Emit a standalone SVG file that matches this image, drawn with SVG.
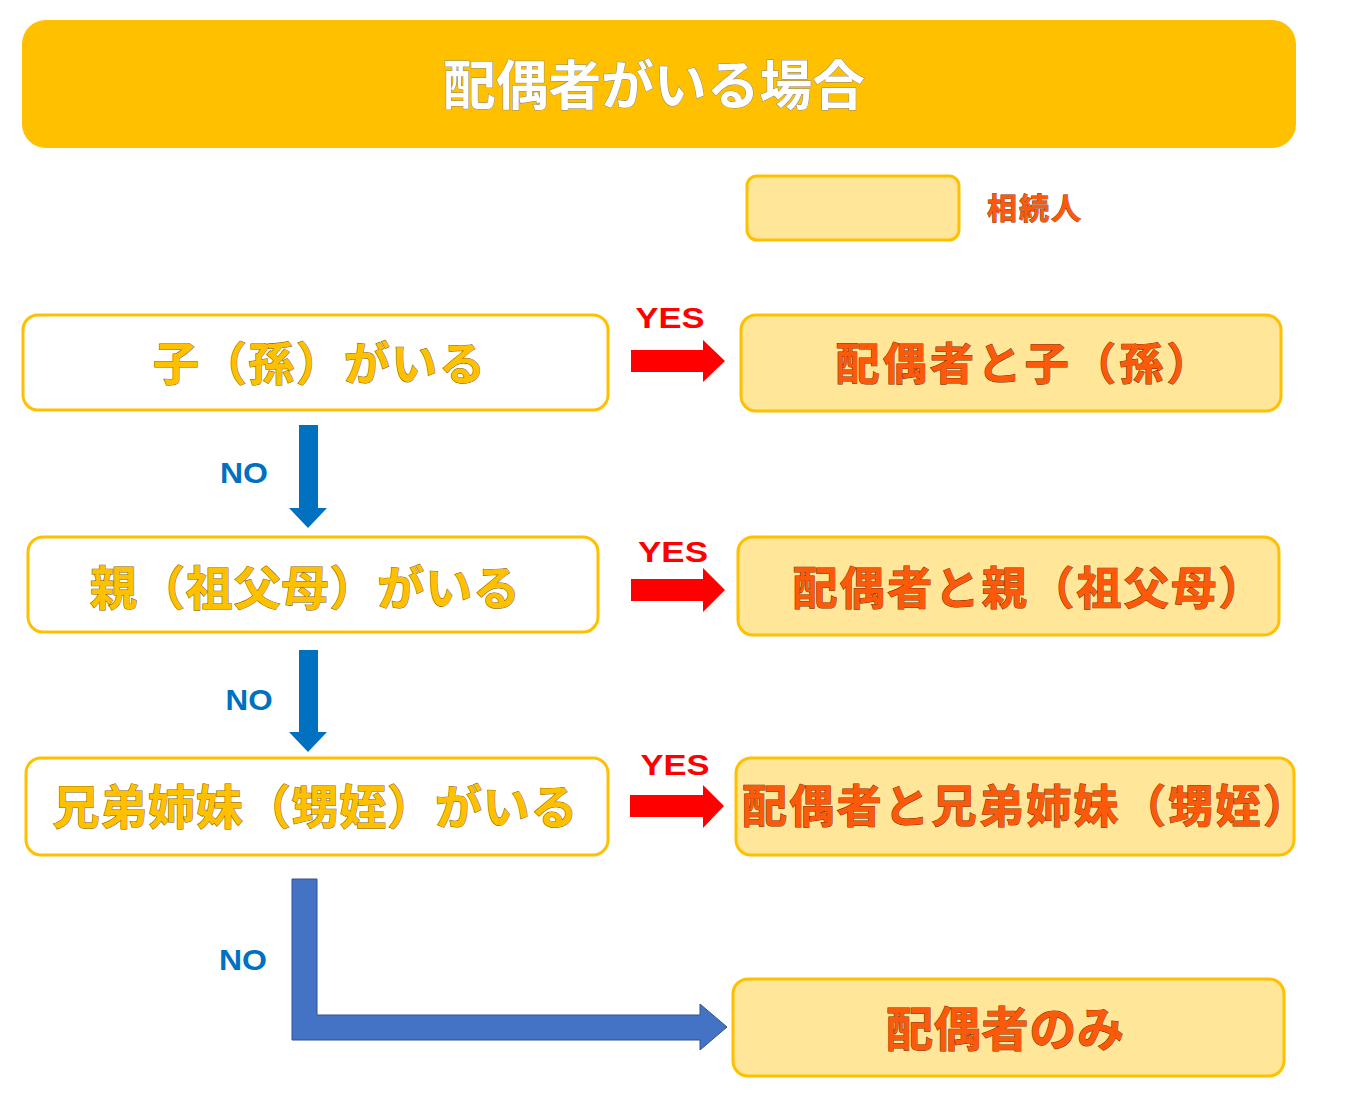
<svg xmlns="http://www.w3.org/2000/svg" width="1370" height="1102" viewBox="0 0 1370 1102">
<style>
.jp{font-family:"Noto Sans CJK JP","Noto Sans CJK SC",sans-serif;font-weight:bold;text-anchor:middle;paint-order:stroke}
.q{fill:#FFFFFF;stroke:#FFC000;stroke-width:3}
.a{fill:#FFE699;stroke:#FFC000;stroke-width:3}
.ty{fill:#FFC000;stroke:#7F6000;stroke-width:1}
.to{fill:#FC5A0A;stroke:#7A2A00;stroke-width:1}
.yes{font-family:"Liberation Sans",Arial,sans-serif;font-weight:bold;fill:#FF0000;font-size:29px;text-anchor:middle}
.no{font-family:"Liberation Sans",Arial,sans-serif;font-weight:bold;fill:#0070C0;font-size:30px;text-anchor:middle}
.ra{fill:#FF0000}
.ba{fill:#0070C0}
</style>
<rect width="1370" height="1102" fill="#FFFFFF"/>
<g id="title">
<rect x="22" y="20" width="1274" height="128" rx="24" fill="#FFC000"/>
<text class="jp" x="654" y="105" font-size="53" textLength="422" lengthAdjust="spacingAndGlyphs" fill="#FFFFFF" stroke="#8A8A8A" stroke-width="1">配偶者がいる場合</text>
</g>
<g id="legend">
<rect class="a" x="747" y="176" width="212" height="64" rx="10"/>
<text class="jp to" x="1034" y="219" font-size="30" textLength="94" style="stroke-width:0.8">相続人</text>
</g>
<g id="q1">
<rect class="q" x="23" y="315" width="585" height="95" rx="15"/>
<text class="jp ty" x="319" y="380" font-size="46" textLength="332">子（孫）がいる</text>
</g>
<g id="a1">
<rect class="a" x="741" y="315" width="540" height="96" rx="15"/>
<text class="jp to" x="1023" y="380" font-size="44" textLength="375">配偶者と子（孫）</text>
</g>
<g id="q2">
<rect class="q" x="28" y="537" width="570" height="95" rx="15"/>
<text class="jp ty" x="305" y="605" font-size="47" textLength="430">親（祖父母）がいる</text>
</g>
<g id="a2">
<rect class="a" x="738" y="537" width="541" height="98" rx="15"/>
<text class="jp to" x="1028" y="605" font-size="45" textLength="471">配偶者と親（祖父母）</text>
</g>
<g id="q3">
<rect class="q" x="26" y="758" width="582" height="97" rx="15"/>
<text class="jp ty" x="315" y="824" font-size="47" textLength="525">兄弟姉妹（甥姪）がいる</text>
</g>
<g id="a3">
<rect class="a" x="736" y="758" width="558" height="97" rx="15"/>
<text class="jp to" x="1025" y="823" font-size="45" textLength="566">配偶者と兄弟姉妹（甥姪）</text>
</g>
<g id="a4">
<rect class="a" x="733" y="979" width="551" height="97" rx="15"/>
<text class="jp to" x="1005" y="1046" font-size="47" textLength="238">配偶者のみ</text>
</g>
<g id="connectors">
<text class="yes" x="670" y="328" textLength="69" lengthAdjust="spacingAndGlyphs">YES</text>
<polygon class="ra" points="631,350 703,350 703,340 725,361 703,382 703,372 631,372"/>
<text class="yes" x="673" y="562" textLength="70" lengthAdjust="spacingAndGlyphs">YES</text>
<polygon class="ra" points="631,579 703,579 703,568 725,590 703,612 703,601 631,601"/>
<text class="yes" x="675" y="775" textLength="69" lengthAdjust="spacingAndGlyphs">YES</text>
<polygon class="ra" points="630,795 703,795 703,785 724,806 703,828 703,817 630,817"/>
<text class="no" x="244" y="483" textLength="48" lengthAdjust="spacingAndGlyphs">NO</text>
<polygon class="ba" points="299,425 318,425 318,508 327,508 308,528 289,508 299,508"/>
<text class="no" x="249" y="710" textLength="47" lengthAdjust="spacingAndGlyphs">NO</text>
<polygon class="ba" points="299,650 318,650 318,732 327,732 308,752 289,732 299,732"/>
<text class="no" x="243" y="970" textLength="48" lengthAdjust="spacingAndGlyphs">NO</text>
<polygon fill="#4472C4" stroke="#2F528F" stroke-width="1" points="292,879 317,879 317,1015 700,1015 700,1004 727,1027 700,1050 700,1040 292,1040"/>
</g>
</svg>
